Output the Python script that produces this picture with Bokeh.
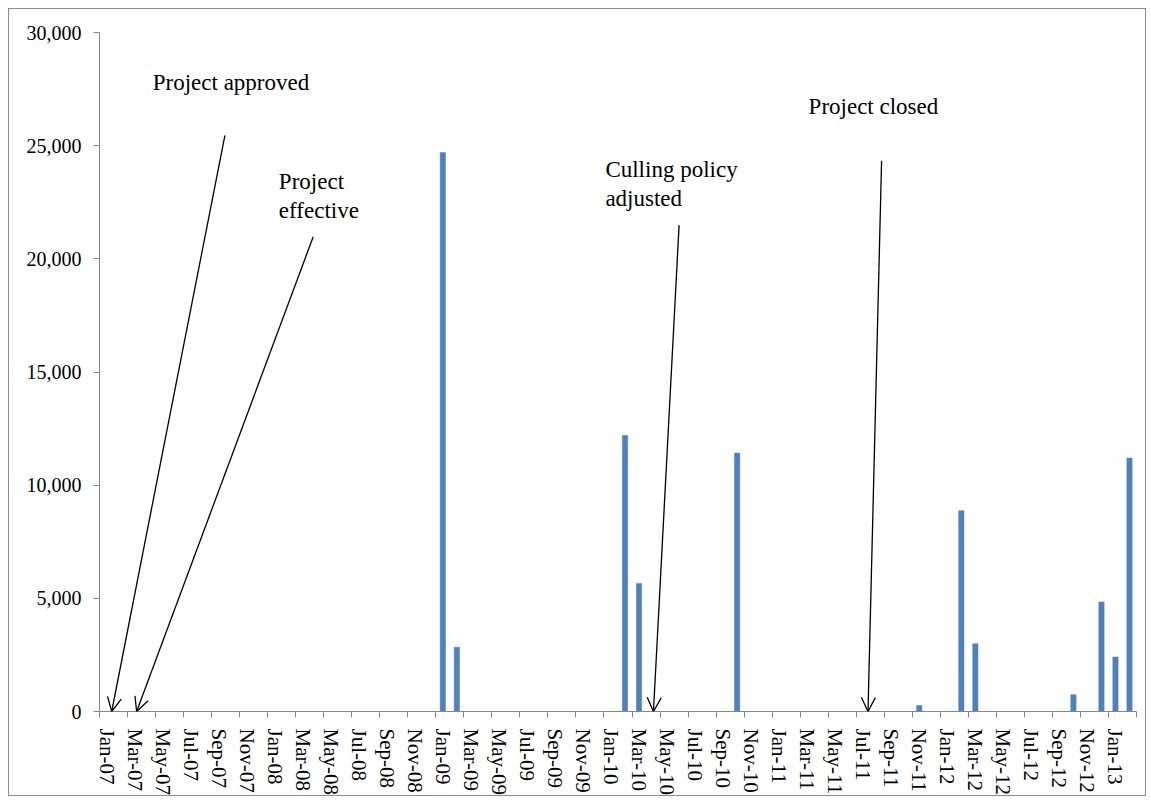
import pandas as pd
from bokeh.plotting import figure
from bokeh.models import (Range1d, FixedTicker, NumeralTickFormatter, Arrow,
                          OpenHead, Label, ColumnDataSource)
from bokeh.embed import file_html
from bokeh.resources import INLINE

# ---- data ----
months = list(pd.date_range("2007-01-01", "2013-02-01", freq="MS").strftime("%b-%y"))
bar_months = ["Jan-09", "Feb-09", "Feb-10", "Mar-10", "Oct-10", "Nov-11",
              "Feb-12", "Mar-12", "Oct-12", "Dec-12", "Jan-13", "Feb-13"]
bar_values = [24700, 2840, 12190, 5660, 11420, 265,
              8870, 2990, 740, 4840, 2410, 11200]

event_labels = ["Project approved", "Project\neffective", "Culling policy\nadjusted", "Project closed"]
event_months = ["Jan-07", "Mar-07", "Apr-10", "Jul-11"]

# annotation layout (label anchor and arrow start, in data units)
label_x = [3.8, 12.8, 36.1, 50.6]
label_y = [27800, 22770, 23300, 26710]
arrow_x0 = [8.95, 15.25, 41.36, 55.81]
arrow_y0 = [25460, 20975, 21490, 24330]
arrow_dx = [0.37, 0.15, 0.03, 0.34]   # tip offset from month centre
arrow_y1 = [0, 0, 0, 0]

FONT = "Liberation Serif"
GRAY = "#868686"

idx = {m: i for i, m in enumerate(months)}
src = ColumnDataSource(dict(x=[idx[m] + 0.5 for m in bar_months], top=bar_values))

p = figure(width=1138, height=788, output_backend="svg", toolbar_location=None,
           x_range=Range1d(0, len(months)), y_range=Range1d(0, 30000),
           min_border_left=90, min_border_right=11, min_border_top=23, min_border_bottom=85,
           styles={"border": "1px solid #8c8c8c", "margin": "8px 0 0 8px"})
p.outline_line_color = None
p.grid.visible = False

p.vbar(x="x", top="top", width=0.38, bottom=0, source=src,
       fill_color="#4F81BD", line_color="#4F81BD", line_width=0.5)

# x axis
xa = p.xaxis[0]
label_pos = [i + 0.5 for i in range(0, len(months), 2)]
xa.ticker = FixedTicker(ticks=label_pos, minor_ticks=list(range(0, len(months) + 1, 2)))
xa.major_label_overrides = {i + 0.5: months[i] for i in range(0, len(months), 2)}
xa.major_label_orientation = "vertical"
xa.major_tick_line_color = None
xa.minor_tick_line_color = GRAY
xa.minor_tick_out = 6
xa.minor_tick_in = 0
xa.axis_line_color = GRAY
xa.major_label_text_font = FONT
xa.major_label_text_font_size = "21px"
xa.major_label_text_color = "black"
xa.major_label_standoff = 11

# y axis
ya = p.yaxis[0]
ya.ticker = FixedTicker(ticks=list(range(0, 30001, 5000)))
ya.formatter = NumeralTickFormatter(format="0,0")
ya.axis_line_color = GRAY
ya.major_tick_line_color = GRAY
ya.major_tick_out = 6
ya.major_tick_in = 0
ya.minor_tick_line_color = None
ya.major_label_text_font = FONT
ya.major_label_text_font_size = "20px"
ya.major_label_text_color = "black"
ya.major_label_standoff = 12

for i, lab in enumerate(event_labels):
    p.add_layout(Label(x=label_x[i], y=label_y[i], text=lab, text_font=FONT,
                       text_font_size="23px", text_baseline="middle", text_align="left",
                       text_color="black", text_line_height=1.15))
    p.add_layout(Arrow(end=OpenHead(size=14, line_width=1.3, line_color="black"),
                       x_start=arrow_x0[i], y_start=arrow_y0[i],
                       x_end=idx[event_months[i]] + 0.5 + arrow_dx[i], y_end=arrow_y1[i],
                       line_width=1.3, line_color="black"))

open("out.html", "w").write(file_html(p, INLINE))
